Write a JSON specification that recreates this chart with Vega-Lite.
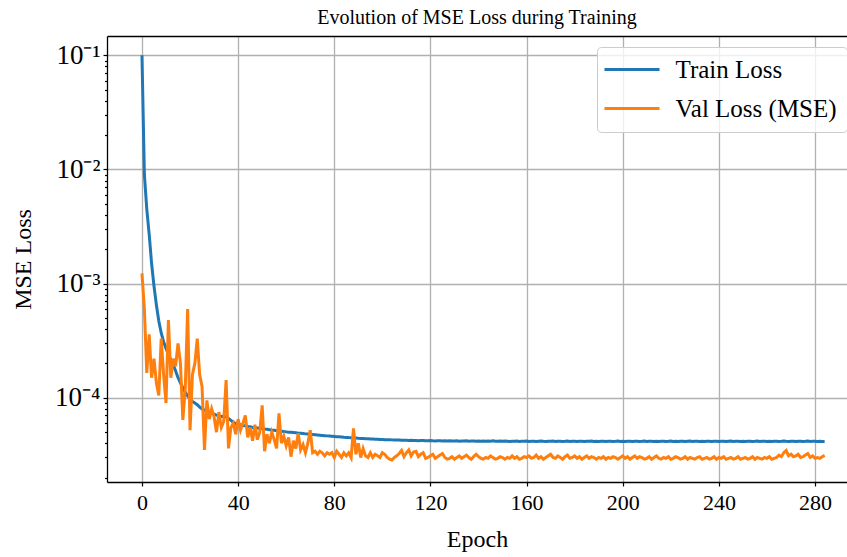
{
"$schema": "https://vega.github.io/schema/vega-lite/v6.json",
"width": 740,
"height": 446,
"autosize": {"type": "none"},
"padding": {"left": 107, "top": 36, "right": 0, "bottom": 75},
"background": "white",
"title": {"text": "Evolution of MSE Loss during Training", "font": "Liberation Serif", "fontSize": 20, "fontWeight": "normal", "color": "black", "offset": 8, "anchor": "middle"},
"config": {
  "view": {"stroke": null},
  "axis": {"labelFont": "Liberation Serif", "titleFont": "Liberation Serif", "labelColor": "black", "titleColor": "black", "titleFontWeight": "normal", "domainColor": "black", "domainWidth": 1.3, "tickColor": "black", "tickWidth": 1.2, "gridColor": "#b0b0b0", "gridWidth": 1.3}
},
"data": {"values": [
{"e":0,"t":1e-1,"v":1.23e-3},{"e":1,"t":9e-3,"v":6.0e-4},{"e":2,"t":4.5e-3,"v":1.65e-4},{"e":3,"t":2.7e-3,"v":3.6e-4},{"e":4,"t":1.5e-3,"v":1.5e-4},
{"e":5,"t":9.5e-4,"v":2.2e-4},{"e":6,"t":6.5e-4,"v":1.35e-4},{"e":7,"t":4.7e-4,"v":1.05e-4},{"e":8,"t":3.7e-4,"v":3.3e-4},{"e":9,"t":3.1e-4,"v":1.6e-4},
{"e":10,"t":2.7e-4,"v":9.0e-5},{"e":11,"t":2.4e-4,"v":4.8e-4},{"e":12,"t":2.15e-4,"v":1.5e-4},{"e":13,"t":1.95e-4,"v":2.2e-4},{"e":14,"t":1.72e-4,"v":1.9e-4},
{"e":15,"t":1.5e-4,"v":3.0e-4},{"e":16,"t":1.35e-4,"v":2.0e-4},{"e":17,"t":1.22e-4,"v":6.4e-5},{"e":18,"t":1.12e-4,"v":1.2e-4},{"e":19,"t":1.04e-4,"v":6.0e-4},
{"e":20,"t":9.8e-5,"v":5.2e-5},{"e":21,"t":9.3e-5,"v":1.6e-4},{"e":22,"t":9.0e-5,"v":2.0e-4},{"e":23,"t":8.7e-5,"v":3.3e-4},{"e":24,"t":8.3e-5,"v":1.6e-4},
{"e":25,"t":8.0e-5,"v":1.25e-4},{"e":26,"t":7.8e-5,"v":3.5e-5},{"e":27,"t":7.6e-5,"v":9.5e-5},{"e":28,"t":7.45e-5,"v":6.5e-5},{"e":29,"t":7.3e-5,"v":8.0e-5},
{"e":30,"t":7.2e-5,"v":6.8e-5},{"e":31,"t":7.05e-5,"v":5.0e-5},{"e":32,"t":6.95e-5,"v":7.5e-5},{"e":33,"t":6.85e-5,"v":5.5e-5},{"e":34,"t":6.9e-5,"v":6.2e-5},
{"e":35,"t":6.8e-5,"v":1.43e-4},{"e":36,"t":6.6e-5,"v":3.6e-5},{"e":37,"t":6.35e-5,"v":5.5e-5},{"e":38,"t":6.1e-5,"v":6.0e-5},{"e":39,"t":5.95e-5,"v":4.8e-5},
{"e":40,"t":5.85e-5,"v":6.5e-5},{"e":41,"t":5.8e-5,"v":5.2e-5},{"e":42,"t":5.72e-5,"v":6.0e-5},{"e":43,"t":5.68e-5,"v":7.0e-5},{"e":44,"t":5.6e-5,"v":4.5e-5},
{"e":45,"t":5.58e-5,"v":5.5e-5},{"e":46,"t":5.5e-5,"v":4.2e-5},{"e":47,"t":5.48e-5,"v":5.8e-5},{"e":48,"t":5.44e-5,"v":4.3e-5},{"e":49,"t":5.4e-5,"v":5.0e-5},
{"e":50,"t":5.37e-5,"v":8.6e-5},{"e":51,"t":5.33e-5,"v":3.4e-5},{"e":52,"t":5.3e-5,"v":4.8e-5},{"e":53,"t":5.26e-5,"v":4.0e-5},{"e":54,"t":5.22e-5,"v":5.0e-5},
{"e":55,"t":5.2e-5,"v":4.3e-5},{"e":56,"t":5.15e-5,"v":3.6e-5},{"e":57,"t":5.13e-5,"v":7.3e-5},{"e":58,"t":5.1e-5,"v":4.0e-5},{"e":59,"t":5.06e-5,"v":4.6e-5},
{"e":60,"t":5.03e-5,"v":3.8e-5},{"e":61,"t":5.0e-5,"v":4.5e-5},{"e":62,"t":4.98e-5,"v":3.05e-5},{"e":63,"t":4.96e-5,"v":4.2e-5},{"e":64,"t":4.94e-5,"v":3.6e-5},
{"e":65,"t":4.9e-5,"v":4.9e-5},{"e":66,"t":4.88e-5,"v":3.5e-5},{"e":67,"t":4.86e-5,"v":3.9e-5},{"e":68,"t":4.83e-5,"v":3.3e-5},{"e":69,"t":4.81e-5,"v":4.0e-5},
{"e":70,"t":4.78e-5,"v":5.2e-5},{"e":71,"t":4.76e-5,"v":3.3e-5},{"e":72,"t":4.74e-5,"v":3.4e-5},{"e":73,"t":4.72e-5,"v":3.2e-5},{"e":74,"t":4.7e-5,"v":3.4e-5},
{"e":75,"t":4.68e-5,"v":3.3e-5},{"e":76,"t":4.66e-5,"v":3.1e-5},{"e":77,"t":4.64e-5,"v":3.3e-5},{"e":78,"t":4.62e-5,"v":3.2e-5},{"e":79,"t":4.6e-5,"v":3.3e-5},
{"e":80,"t":4.58e-5,"v":3.0e-5},{"e":81,"t":4.56e-5,"v":3.4e-5},{"e":82,"t":4.55e-5,"v":3.2e-5},{"e":83,"t":4.53e-5,"v":3.0e-5},{"e":84,"t":4.51e-5,"v":3.3e-5},
{"e":85,"t":4.5e-5,"v":3.1e-5},{"e":86,"t":4.48e-5,"v":3.3e-5},{"e":87,"t":4.47e-5,"v":3.0e-5},{"e":88,"t":4.45e-5,"v":5.4e-5},{"e":89,"t":4.44e-5,"v":3.2e-5},
{"e":90,"t":4.42e-5,"v":4.0e-5},{"e":91,"t":4.41e-5,"v":3.0e-5},{"e":92,"t":4.4e-5,"v":3.6e-5},{"e":93,"t":4.38e-5,"v":3.1e-5},{"e":94,"t":4.37e-5,"v":3.0e-5},
{"e":95,"t":4.36e-5,"v":3.3e-5},{"e":96,"t":4.35e-5,"v":3.0e-5},{"e":97,"t":4.34e-5,"v":3.2e-5},{"e":98,"t":4.33e-5,"v":3.1e-5},{"e":99,"t":4.32e-5,"v":3.0e-5},
{"e":100,"t":4.31e-5,"v":3.3e-5},{"e":101,"t":4.3e-5,"v":3.2e-5},{"e":102,"t":4.3e-5,"v":3.0e-5},{"e":103,"t":4.29e-5,"v":2.9e-5},{"e":104,"t":4.28e-5,"v":2.85e-5},
{"e":105,"t":4.27e-5,"v":3.0e-5},{"e":106,"t":4.26e-5,"v":3.1e-5},{"e":107,"t":4.27e-5,"v":3.25e-5},{"e":108,"t":4.25e-5,"v":3.45e-5},{"e":109,"t":4.24e-5,"v":3.05e-5},
{"e":110,"t":4.25e-5,"v":3.3e-5},{"e":111,"t":4.23e-5,"v":3.5e-5},{"e":112,"t":4.24e-5,"v":3.1e-5},{"e":113,"t":4.22e-5,"v":3.35e-5},{"e":114,"t":4.23e-5,"v":3.4e-5},
{"e":115,"t":4.21e-5,"v":3.05e-5},{"e":116,"t":4.22e-5,"v":3.2e-5},{"e":117,"t":4.23e-5,"v":3.3e-5},{"e":118,"t":4.21e-5,"v":2.95e-5},{"e":119,"t":4.2e-5,"v":3.0e-5},
{"e":120,"t":4.22e-5,"v":3.1e-5},{"e":121,"t":4.2e-5,"v":3.2e-5},{"e":122,"t":4.19e-5,"v":2.95e-5},{"e":123,"t":4.21e-5,"v":3.05e-5},{"e":124,"t":4.2e-5,"v":3.15e-5},
{"e":125,"t":4.18e-5,"v":3.25e-5},{"e":126,"t":4.2e-5,"v":3.0e-5},{"e":127,"t":4.19e-5,"v":2.9e-5},{"e":128,"t":4.21e-5,"v":2.95e-5},{"e":129,"t":4.18e-5,"v":3.05e-5},
{"e":130,"t":4.19e-5,"v":2.9e-5},{"e":131,"t":4.2e-5,"v":3.0e-5},{"e":132,"t":4.17e-5,"v":3.1e-5},{"e":133,"t":4.19e-5,"v":2.95e-5},{"e":134,"t":4.18e-5,"v":3.05e-5},
{"e":135,"t":4.2e-5,"v":3.15e-5},{"e":136,"t":4.17e-5,"v":3.0e-5},{"e":137,"t":4.18e-5,"v":2.9e-5},{"e":138,"t":4.19e-5,"v":3.05e-5},{"e":139,"t":4.16e-5,"v":3.2e-5},
{"e":140,"t":4.18e-5,"v":3.05e-5},{"e":141,"t":4.17e-5,"v":2.95e-5},{"e":142,"t":4.19e-5,"v":2.9e-5},{"e":143,"t":4.16e-5,"v":3.0e-5},{"e":144,"t":4.18e-5,"v":2.95e-5},
{"e":145,"t":4.17e-5,"v":3.1e-5},{"e":146,"t":4.2e-5,"v":3.0e-5},{"e":147,"t":4.16e-5,"v":2.9e-5},{"e":148,"t":4.17e-5,"v":2.95e-5},{"e":149,"t":4.18e-5,"v":3.05e-5},
{"e":150,"t":4.16e-5,"v":3.0e-5},{"e":151,"t":4.18e-5,"v":2.9e-5},{"e":152,"t":4.17e-5,"v":3.0e-5},{"e":153,"t":4.15e-5,"v":2.95e-5},{"e":154,"t":4.17e-5,"v":3.1e-5},
{"e":155,"t":4.16e-5,"v":2.95e-5},{"e":156,"t":4.18e-5,"v":3.05e-5},{"e":157,"t":4.15e-5,"v":2.9e-5},{"e":158,"t":4.17e-5,"v":2.95e-5},{"e":159,"t":4.16e-5,"v":3.05e-5},
{"e":160,"t":4.18e-5,"v":3.0e-5},{"e":161,"t":4.15e-5,"v":3.1e-5},{"e":162,"t":4.16e-5,"v":2.95e-5},{"e":163,"t":4.17e-5,"v":3.0e-5},{"e":164,"t":4.15e-5,"v":3.15e-5},
{"e":165,"t":4.17e-5,"v":2.95e-5},{"e":166,"t":4.19e-5,"v":3.05e-5},{"e":167,"t":4.16e-5,"v":2.9e-5},{"e":168,"t":4.15e-5,"v":3.0e-5},{"e":169,"t":4.17e-5,"v":3.1e-5},
{"e":170,"t":4.16e-5,"v":3.2e-5},{"e":171,"t":4.18e-5,"v":3.0e-5},{"e":172,"t":4.15e-5,"v":2.95e-5},{"e":173,"t":4.16e-5,"v":3.1e-5},{"e":174,"t":4.17e-5,"v":3.0e-5},
{"e":175,"t":4.15e-5,"v":2.9e-5},{"e":176,"t":4.16e-5,"v":3.05e-5},{"e":177,"t":4.18e-5,"v":3.15e-5},{"e":178,"t":4.15e-5,"v":2.95e-5},{"e":179,"t":4.17e-5,"v":3.0e-5},
{"e":180,"t":4.16e-5,"v":3.1e-5},{"e":181,"t":4.14e-5,"v":2.95e-5},{"e":182,"t":4.16e-5,"v":3.05e-5},{"e":183,"t":4.17e-5,"v":2.9e-5},{"e":184,"t":4.15e-5,"v":3.0e-5},
{"e":185,"t":4.17e-5,"v":3.1e-5},{"e":186,"t":4.16e-5,"v":2.95e-5},{"e":187,"t":4.18e-5,"v":3.05e-5},{"e":188,"t":4.15e-5,"v":3.0e-5},{"e":189,"t":4.16e-5,"v":2.9e-5},
{"e":190,"t":4.15e-5,"v":3.0e-5},{"e":191,"t":4.17e-5,"v":2.95e-5},{"e":192,"t":4.16e-5,"v":3.05e-5},{"e":193,"t":4.14e-5,"v":2.9e-5},{"e":194,"t":4.16e-5,"v":3.0e-5},
{"e":195,"t":4.17e-5,"v":2.95e-5},{"e":196,"t":4.15e-5,"v":3.05e-5},{"e":197,"t":4.16e-5,"v":3.0e-5},{"e":198,"t":4.18e-5,"v":2.9e-5},{"e":199,"t":4.15e-5,"v":3.0e-5},
{"e":200,"t":4.16e-5,"v":3.1e-5},{"e":201,"t":4.15e-5,"v":2.95e-5},{"e":202,"t":4.17e-5,"v":3.05e-5},{"e":203,"t":4.16e-5,"v":2.9e-5},{"e":204,"t":4.14e-5,"v":3.0e-5},
{"e":205,"t":4.16e-5,"v":3.1e-5},{"e":206,"t":4.17e-5,"v":2.95e-5},{"e":207,"t":4.15e-5,"v":3.05e-5},{"e":208,"t":4.16e-5,"v":3.0e-5},{"e":209,"t":4.18e-5,"v":2.9e-5},
{"e":210,"t":4.15e-5,"v":2.95e-5},{"e":211,"t":4.16e-5,"v":3.05e-5},{"e":212,"t":4.17e-5,"v":2.9e-5},{"e":213,"t":4.15e-5,"v":3.0e-5},{"e":214,"t":4.16e-5,"v":3.1e-5},
{"e":215,"t":4.14e-5,"v":2.95e-5},{"e":216,"t":4.16e-5,"v":2.9e-5},{"e":217,"t":4.17e-5,"v":3.0e-5},{"e":218,"t":4.15e-5,"v":2.95e-5},{"e":219,"t":4.16e-5,"v":3.05e-5},
{"e":220,"t":4.18e-5,"v":2.9e-5},{"e":221,"t":4.15e-5,"v":2.95e-5},{"e":222,"t":4.16e-5,"v":3.05e-5},{"e":223,"t":4.15e-5,"v":3.0e-5},{"e":224,"t":4.17e-5,"v":2.9e-5},
{"e":225,"t":4.16e-5,"v":2.95e-5},{"e":226,"t":4.14e-5,"v":3.05e-5},{"e":227,"t":4.16e-5,"v":2.9e-5},{"e":228,"t":4.18e-5,"v":3.0e-5},{"e":229,"t":4.15e-5,"v":2.95e-5},
{"e":230,"t":4.16e-5,"v":2.9e-5},{"e":231,"t":4.17e-5,"v":3.0e-5},{"e":232,"t":4.15e-5,"v":3.05e-5},{"e":233,"t":4.16e-5,"v":2.9e-5},{"e":234,"t":4.14e-5,"v":2.95e-5},
{"e":235,"t":4.16e-5,"v":3.0e-5},{"e":236,"t":4.17e-5,"v":2.9e-5},{"e":237,"t":4.15e-5,"v":2.95e-5},{"e":238,"t":4.17e-5,"v":3.05e-5},{"e":239,"t":4.16e-5,"v":2.9e-5},
{"e":240,"t":4.15e-5,"v":3.0e-5},{"e":241,"t":4.17e-5,"v":2.95e-5},{"e":242,"t":4.16e-5,"v":3.05e-5},{"e":243,"t":4.14e-5,"v":2.9e-5},{"e":244,"t":4.16e-5,"v":2.95e-5},
{"e":245,"t":4.18e-5,"v":3.0e-5},{"e":246,"t":4.15e-5,"v":2.9e-5},{"e":247,"t":4.16e-5,"v":2.95e-5},{"e":248,"t":4.17e-5,"v":3.05e-5},{"e":249,"t":4.15e-5,"v":2.9e-5},
{"e":250,"t":4.16e-5,"v":2.95e-5},{"e":251,"t":4.14e-5,"v":3.0e-5},{"e":252,"t":4.16e-5,"v":2.9e-5},{"e":253,"t":4.17e-5,"v":2.95e-5},{"e":254,"t":4.15e-5,"v":3.05e-5},
{"e":255,"t":4.16e-5,"v":2.9e-5},{"e":256,"t":4.18e-5,"v":3.0e-5},{"e":257,"t":4.15e-5,"v":2.95e-5},{"e":258,"t":4.16e-5,"v":2.9e-5},{"e":259,"t":4.17e-5,"v":3.0e-5},
{"e":260,"t":4.15e-5,"v":2.95e-5},{"e":261,"t":4.16e-5,"v":3.05e-5},{"e":262,"t":4.14e-5,"v":2.9e-5},{"e":263,"t":4.16e-5,"v":2.95e-5},{"e":264,"t":4.17e-5,"v":3.0e-5},
{"e":265,"t":4.15e-5,"v":3.15e-5},{"e":266,"t":4.16e-5,"v":3.05e-5},{"e":267,"t":4.18e-5,"v":3.3e-5},{"e":268,"t":4.16e-5,"v":3.45e-5},{"e":269,"t":4.15e-5,"v":3.1e-5},
{"e":270,"t":4.17e-5,"v":3.2e-5},{"e":271,"t":4.16e-5,"v":3.05e-5},{"e":272,"t":4.14e-5,"v":3.1e-5},{"e":273,"t":4.16e-5,"v":3.2e-5},{"e":274,"t":4.17e-5,"v":3.0e-5},
{"e":275,"t":4.15e-5,"v":3.05e-5},{"e":276,"t":4.16e-5,"v":3.15e-5},{"e":277,"t":4.18e-5,"v":3.25e-5},{"e":278,"t":4.15e-5,"v":3.0e-5},{"e":279,"t":4.16e-5,"v":3.1e-5},
{"e":280,"t":4.17e-5,"v":2.95e-5},{"e":281,"t":4.15e-5,"v":3.0e-5},{"e":282,"t":4.16e-5,"v":2.95e-5},{"e":283,"t":4.14e-5,"v":3.05e-5},{"e":284,"t":4.15e-5,"v":3.13e-5}
]},
"transform": [{"fold": ["t", "v"], "as": ["series", "loss"]}],
"layer": [
 {
  "mark": {"type": "line", "strokeWidth": 3, "clip": true},
  "encoding": {
   "x": {"field": "e", "type": "quantitative",
     "scale": {"domain": [-14.55, 293.3], "nice": false, "zero": false},
     "axis": {"values": [0, 40, 80, 120, 160, 200, 240, 280], "title": "Epoch", "titleFontSize": 24, "labelFontSize": 22, "labelPadding": 6, "titlePadding": 14, "tickSize": 4, "grid": true, "labelFlush": false}},
   "y": {"field": "loss", "type": "quantitative",
     "scale": {"type": "log", "domain": [1.83e-5, 0.1476], "nice": false},
     "axis": {"values": [2e-5, 3e-5, 4e-5, 5e-5, 6e-5, 7e-5, 8e-5, 9e-5, 1e-4, 2e-4, 3e-4, 4e-4, 5e-4, 6e-4, 7e-4, 8e-4, 9e-4, 1e-3, 2e-3, 3e-3, 4e-3, 5e-3, 6e-3, 7e-3, 8e-3, 9e-3, 1e-2, 2e-2, 3e-2, 4e-2, 5e-2, 6e-2, 7e-2, 8e-2, 9e-2, 1e-1],
       "labelExpr": "datum.value == 0.1 ? '10⁻¹' : datum.value == 0.01 ? '10⁻²' : datum.value == 0.001 ? '10⁻³' : datum.value == 0.0001 ? '10⁻⁴' : ''",
       "title": "MSE Loss", "titleFontSize": 24, "labelFontSize": 27, "labelPadding": 3, "titlePadding": 19, "grid": true, "labelFlush": false, "labelOverlap": false,
       "tickSize": {"condition": {"test": "indexof([0.1, 0.01, 0.001, 0.0001], datum.value) >= 0", "value": 4}, "value": 2.5},
       "gridOpacity": {"condition": {"test": "indexof([0.1, 0.01, 0.001, 0.0001], datum.value) >= 0", "value": 1}, "value": 0}}},
   "color": {"field": "series", "type": "nominal",
     "scale": {"domain": ["t", "v"], "range": ["#1f77b4", "#ff7f0e"]},
     "legend": {"title": null, "orient": "none", "legendX": 490, "legendY": 11, "labelExpr": "datum.label == 't' ? 'Train Loss' : 'Val Loss (MSE)'",
       "labelFont": "Liberation Serif", "labelFontSize": 25, "labelColor": "black", "labelLimit": 400, "symbolType": "M-2.5,0L2.5,0", "symbolSize": 484, "symbolStrokeWidth": 3,
       "symbolOffset": 12.5, "rowPadding": 13, "labelOffset": 31, "padding": 10, "strokeColor": "#cccccc", "fillColor": "rgba(255,255,255,0.8)", "cornerRadius": 4}}
  }
 },
 {
  "mark": {"type": "line", "opacity": 0},
  "encoding": {
   "x": {"field": "e", "type": "quantitative", "axis": {"orient": "top", "labels": false, "ticks": false, "grid": false, "title": null, "domain": true}},
   "y": {"field": "loss", "type": "quantitative"}
  }
 }
],
"resolve": {"axis": {"x": "independent"}}
}
